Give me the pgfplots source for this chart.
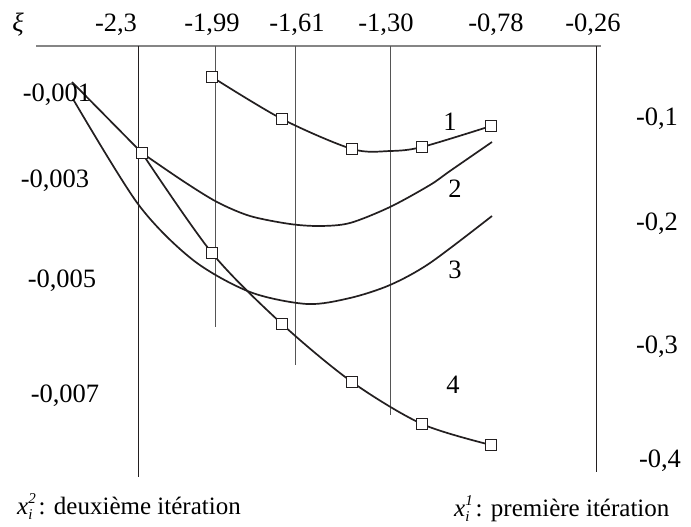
\documentclass[border=0pt]{standalone}
\usepackage{pgfplots}
\pgfplotsset{compat=1.18}
\usepackage{fontspec}
\setmainfont{Liberation Serif}
\newcommand\lab{\fontsize{26.5}{30}\selectfont}
\newcommand\blab{\fontsize{25}{30}\selectfont}
\newcommand\sml{\fontsize{15}{16}\selectfont}
\definecolor{ink}{HTML}{231F20}
\definecolor{vline}{HTML}{555555}
\definecolor{axline}{HTML}{858585}
\begin{document}
\begin{tikzpicture}
\begin{axis}[
  x=1pt, y=1pt, y dir=reverse,
  xmin=0, xmax=691, ymin=0, ymax=527,
  hide axis, clip=false, enlargelimits=false,
  scale only axis,
]
\path[fill=white] (axis cs:0,0) rectangle (axis cs:691,527);
% top axis line
\addplot[axline, line width=1.6pt] coordinates {(36,46) (601,46)};
% vertical lines
\addplot[ink, line width=0.9pt] coordinates {(138,46) (138,477)};
\addplot[vline, line width=0.8pt] coordinates {(215,46) (215,327)};
\addplot[vline, line width=0.8pt] coordinates {(295,46) (295,365)};
\addplot[vline, line width=0.8pt] coordinates {(390,46) (390,415)};
\addplot[ink, line width=0.9pt] coordinates {(596,46) (596,472)};
% curve 1
\addplot[ink, line width=1.7pt, smooth] coordinates {(212,77) (282,119) (352,149) (390,151) (422,147) (491,126)};
% curve 2
\addplot[ink, line width=1.7pt, smooth] coordinates {(142,153) (183,181) (217,202) (250,216) (290,224) (320,226) (350,223) (390,207) (430,185) (450,171) (492,142)};
% curve 3
\addplot[ink, line width=1.7pt, smooth] coordinates {(73,99) (138,204) (193,260) (250,292) (307,304) (350,298) (390,285) (430,263) (492,216)};
% curve 4
\addplot[ink, line width=1.7pt] coordinates {(72,82) (142,153)};
\addplot[ink, line width=1.7pt, smooth] coordinates {(142,153) (212,253) (282,324) (352,382) (422,424) (491,445)};
% markers
\addplot[only marks, mark=square*, mark size=5.3pt, mark options={fill=white, draw=ink, line width=1.5pt}] coordinates {(212,77) (282,119) (352,149) (422,147) (491,126)};
\addplot[only marks, mark=square*, mark size=5.3pt, mark options={fill=white, draw=ink, line width=1.5pt}] coordinates {(142,153) (212,253) (282,324) (352,382) (422,424) (491,445)};
% top labels
\node[anchor=base, font=\lab] at (axis cs:18,32) {\itshape ξ};
\node[anchor=base, font=\lab] at (axis cs:116,32) {-2,3};
\node[anchor=base, font=\lab] at (axis cs:212,32) {-1,99};
\node[anchor=base, font=\lab] at (axis cs:297,32) {-1,61};
\node[anchor=base, font=\lab] at (axis cs:386,32) {-1,30};
\node[anchor=base, font=\lab] at (axis cs:496,32) {-0,78};
\node[anchor=base, font=\lab] at (axis cs:593,32) {-0,26};
% left labels
\node[anchor=base, font=\lab] at (axis cs:57,102) {-0,001};
\node[anchor=base, font=\lab] at (axis cs:55,187) {-0,003};
\node[anchor=base, font=\lab] at (axis cs:62,287) {-0,005};
\node[anchor=base, font=\lab] at (axis cs:65,402) {-0,007};
% right labels
\node[anchor=base, font=\lab] at (axis cs:657,125) {-0,1};
\node[anchor=base, font=\lab] at (axis cs:657,230) {-0,2};
\node[anchor=base, font=\lab] at (axis cs:657,353) {-0,3};
\node[anchor=base, font=\lab] at (axis cs:660,467) {-0,4};
% curve labels
\node[anchor=base, font=\lab] at (axis cs:450,130) {1};
\node[anchor=base, font=\lab] at (axis cs:455,197) {2};
\node[anchor=base, font=\lab] at (axis cs:455,278) {3};
\node[anchor=base, font=\lab] at (axis cs:453,393) {4};
% bottom labels
\node[anchor=base west, font=\blab, inner sep=0pt] at (axis cs:17,514) {\textit{x}\rlap{\raisebox{0.42em}{\sml\textit{2}}}\raisebox{-0.22em}{\sml\textit{i}} : deuxième itération};
\node[anchor=base west, font=\blab, inner sep=0pt] at (axis cs:454,516) {\textit{x}\rlap{\raisebox{0.42em}{\sml\textit{1}}}\raisebox{-0.22em}{\sml\textit{i}} : première itération};
\end{axis}
\end{tikzpicture}
\end{document}
